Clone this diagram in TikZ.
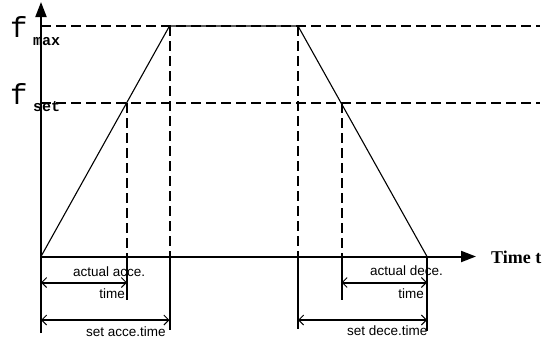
\documentclass[tikz,border=0pt]{standalone}
\usepackage{fontspec}
\setmainfont{Liberation Serif}
\setsansfont{Liberation Sans}
\setmonofont{Liberation Mono}
\usetikzlibrary{arrows.meta}
\tikzset{
  axisline/.style={line width=2pt,-{Triangle[length=15pt,width=11pt]}},
  dashline/.style={line width=2pt,dash pattern=on 10pt off 5pt},
  ramp/.style={line width=1.1pt},
  guide/.style={line width=2pt},
  dimline/.style={line width=2pt,{Straight Barb[length=5pt,width=10pt,line width=0.9pt]}-{Straight Barb[length=5pt,width=10pt,line width=0.9pt]}},
  lab/.style={font=\sffamily\fontsize{13.5}{15}\selectfont,inner sep=0pt},
  flab/.style={font=\ttfamily\fontsize{29}{30}\selectfont,inner sep=0pt,anchor=base west},
  sub/.style={font=\ttfamily\bfseries\fontsize{15}{16}\selectfont,inner sep=0pt,anchor=base west},
}
\begin{document}
\begin{tikzpicture}[x=1pt,y=-1pt]
\useasboundingbox (0,0) rectangle (548,340);
% key coordinates
\coordinate (O) at (41,256.5);
\coordinate (ytop) at (41,2);
\coordinate (xend) at (476,256.5);
\coordinate (A) at (169.5,26);
\coordinate (B) at (298,26);
\coordinate (C) at (427,256.5);
\coordinate (S1) at (127,103);
\coordinate (S2) at (341.5,103);
\coordinate (MaxR) at (540,26);
\coordinate (SetR) at (540,103);
\coordinate (MaxL) at (41,26);
\coordinate (SetL) at (41,103);
\coordinate (Abot) at (169.5,256.5);
\coordinate (Bbot) at (298,256.5);
\coordinate (S1bot) at (127,256.5);
\coordinate (S2bot) at (341.5,256.5);
\coordinate (Oend) at (41,333);
\coordinate (Aend) at (169.5,330);
\coordinate (Bend) at (298,329);
\coordinate (Cend) at (427,331);
\coordinate (S1end) at (127,300);
\coordinate (S2end) at (341.5,300);
% dashed reference lines
\draw[dashline] (MaxL) -- (MaxR);
\draw[dashline] (SetL) -- (SetR);
\draw[dashline] (A) -- (Abot);
\draw[dashline] (B) -- (Bbot);
\draw[dashline] (S1) -- (S1bot);
\draw[dashline] (S2) -- (S2bot);
% ramp
\draw[ramp] (O) -- (A) -- (B) -- (C);
% axes
\draw[axisline] (Oend) -- (ytop);
\draw[axisline] (O) -- (xend);
% solid guides
\draw[guide] (Abot) -- (Aend);
\draw[guide] (Bbot) -- (Bend);
\draw[guide] (S1bot) -- (S1end);
\draw[guide] (S2bot) -- (S2end);
\draw[guide] (C) -- (Cend);
% dimension arrows
\coordinate (d1a) at (41,282.5);
\coordinate (d1b) at (127,282.5);
\coordinate (d2a) at (41,320);
\coordinate (d2b) at (169.5,320);
\coordinate (d3a) at (341.5,282.5);
\coordinate (d3b) at (427,282.5);
\coordinate (d4a) at (298,320);
\coordinate (d4b) at (427,320);
\draw[dimline] (d1a) -- (d1b);
\draw[dimline] (d2a) -- (d2b);
\draw[dimline] (d3a) -- (d3b);
\draw[dimline] (d4a) -- (d4b);
% labels
\node[flab] (fmax) at (10,37) {f};
\node[sub] (smax) at (33,45) {max};
\node[flab] (fset) at (10,104) {f};
\node[sub] (sset) at (33,111) {set};
\node[font=\bfseries\fontsize{18}{19}\selectfont,inner sep=0pt,anchor=base west] (time) at (491,263.5) {Time t};
\node[lab,anchor=base west] (l1) at (73,276.5) {actual acce.};
\node[lab,anchor=base east] (l1b) at (125,298) {time};
\node[lab,anchor=base west] (l2) at (86,336) {set acce.time};
\node[lab,anchor=base west] (l3) at (370,275.5) {actual dece.};
\node[lab,anchor=base east] (l3b) at (424,298) {time};
\node[lab,anchor=base west] (l4) at (347,335) {set dece.time};
\end{tikzpicture}
\end{document}
